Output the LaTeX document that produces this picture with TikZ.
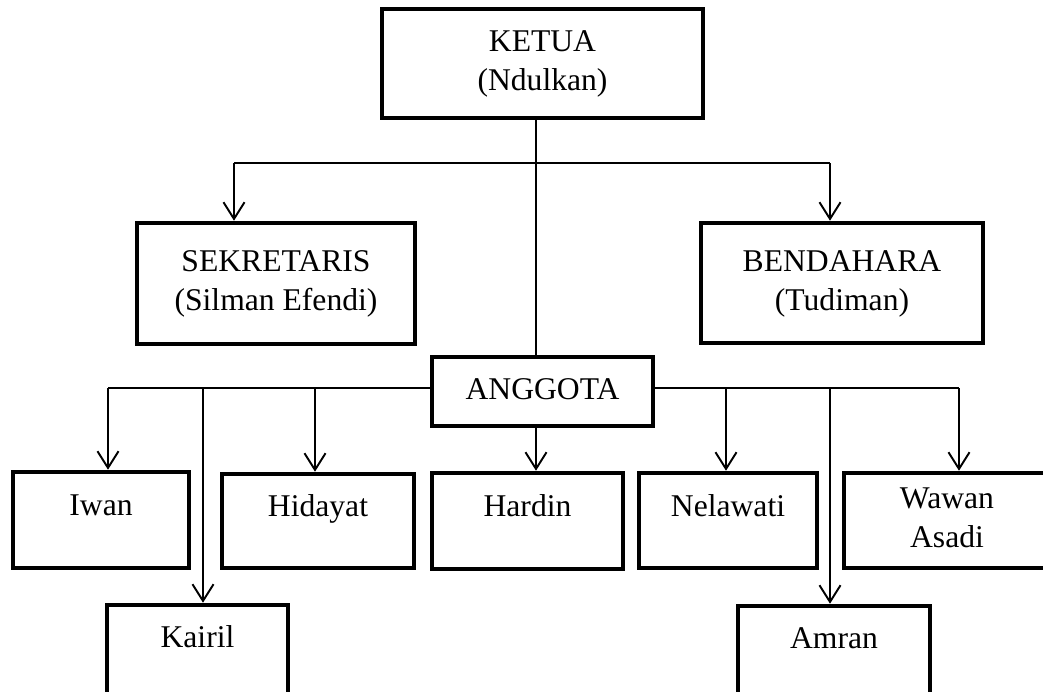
\documentclass[tikz,border=0pt]{standalone}
\usepackage{fontspec}
\setmainfont{Liberation Serif}
\usetikzlibrary{arrows.meta}

\tikzset{
  kotak/.style={draw, rectangle, line width=2.6pt, inner sep=0pt, align=center,
    font=\fontsize{18}{22}\selectfont},
  kecil/.style={kotak, text height=12pt, text depth=17pt},
  garis/.style={line width=1.1pt},
  panah/.style={garis, -{Straight Barb[length=9.5pt,width=12pt]}},
}

\begin{document}
\begin{tikzpicture}

\useasboundingbox (0,0) rectangle (20.86,-13.82);

% Ketua, Sekretaris, Bendahara
\node[kotak, minimum width=6.42cm, minimum height=2.18cm] (ketua) at (10.85,-1.27) {\strut KETUA\\\strut (Ndulkan)};
\node[kotak, minimum width=5.56cm, minimum height=2.42cm] (sekretaris) at (5.52,-5.67) {\strut SEKRETARIS\\\strut (Silman Efendi)};
\node[kotak, minimum width=5.64cm, minimum height=2.40cm] (bendahara) at (16.84,-5.66) {\strut BENDAHARA\\\strut (Tudiman)};
\node[kotak, minimum width=4.42cm, minimum height=1.38cm] (anggota) at (10.85,-7.83) {\strut ANGGOTA};

% Anggota
\node[kecil, minimum width=3.52cm, minimum height=1.92cm] (iwan) at (2.02,-10.40) {Iwan};
\node[kecil, minimum width=3.84cm, minimum height=1.88cm] (hidayat) at (6.36,-10.42) {Hidayat};
\node[kecil, minimum width=3.82cm, minimum height=1.92cm] (hardin) at (10.55,-10.42) {Hardin};
\node[kecil, minimum width=3.56cm, minimum height=1.90cm] (nelawati) at (14.56,-10.41) {Nelawati};
\node[kotak, minimum width=4.12cm, minimum height=1.90cm] (wawan) at (18.94,-10.41) {\strut Wawan\\\strut Asadi};
\node[kecil, minimum width=3.62cm, minimum height=1.88cm] (kairil) at (3.95,-13.04) {Kairil};
\node[kecil, minimum width=3.84cm, minimum height=1.88cm] (amran) at (16.68,-13.06) {Amran};

% Garis atas
\coordinate (atas) at (10.72,-3.26);
\coordinate (kiriA) at (4.68,-3.26);
\coordinate (kananA) at (16.60,-3.26);
\draw[garis] (ketua.south -| atas) -- (anggota.north -| atas);
\draw[garis] (kiriA) -- (kananA);
\draw[panah] (kiriA) -- (kiriA |- sekretaris.north);
\draw[panah] (kananA) -- (kananA |- bendahara.north);

% Garis bawah
\coordinate (kiriB) at (2.16,-7.76);
\coordinate (kananB) at (19.18,-7.76);
\coordinate (tKairil) at (4.06,-7.76);
\coordinate (tHidayat) at (6.30,-7.76);
\coordinate (tNelawati) at (14.52,-7.76);
\coordinate (tAmran) at (16.60,-7.76);
\draw[garis] (kiriB) -- (kiriB -| anggota.west);
\draw[garis] (kananB -| anggota.east) -- (kananB);
\draw[panah] (kiriB) -- (kiriB |- iwan.north);
\draw[panah] (tKairil) -- (tKairil |- kairil.north);
\draw[panah] (tHidayat) -- (tHidayat |- hidayat.north);
\draw[panah] (anggota.south -| atas) -- (hardin.north -| atas);
\draw[panah] (tNelawati) -- (tNelawati |- nelawati.north);
\draw[panah] (tAmran) -- (tAmran |- amran.north);
\draw[panah] (kananB) -- (kananB |- wawan.north);

\end{tikzpicture}
\end{document}
